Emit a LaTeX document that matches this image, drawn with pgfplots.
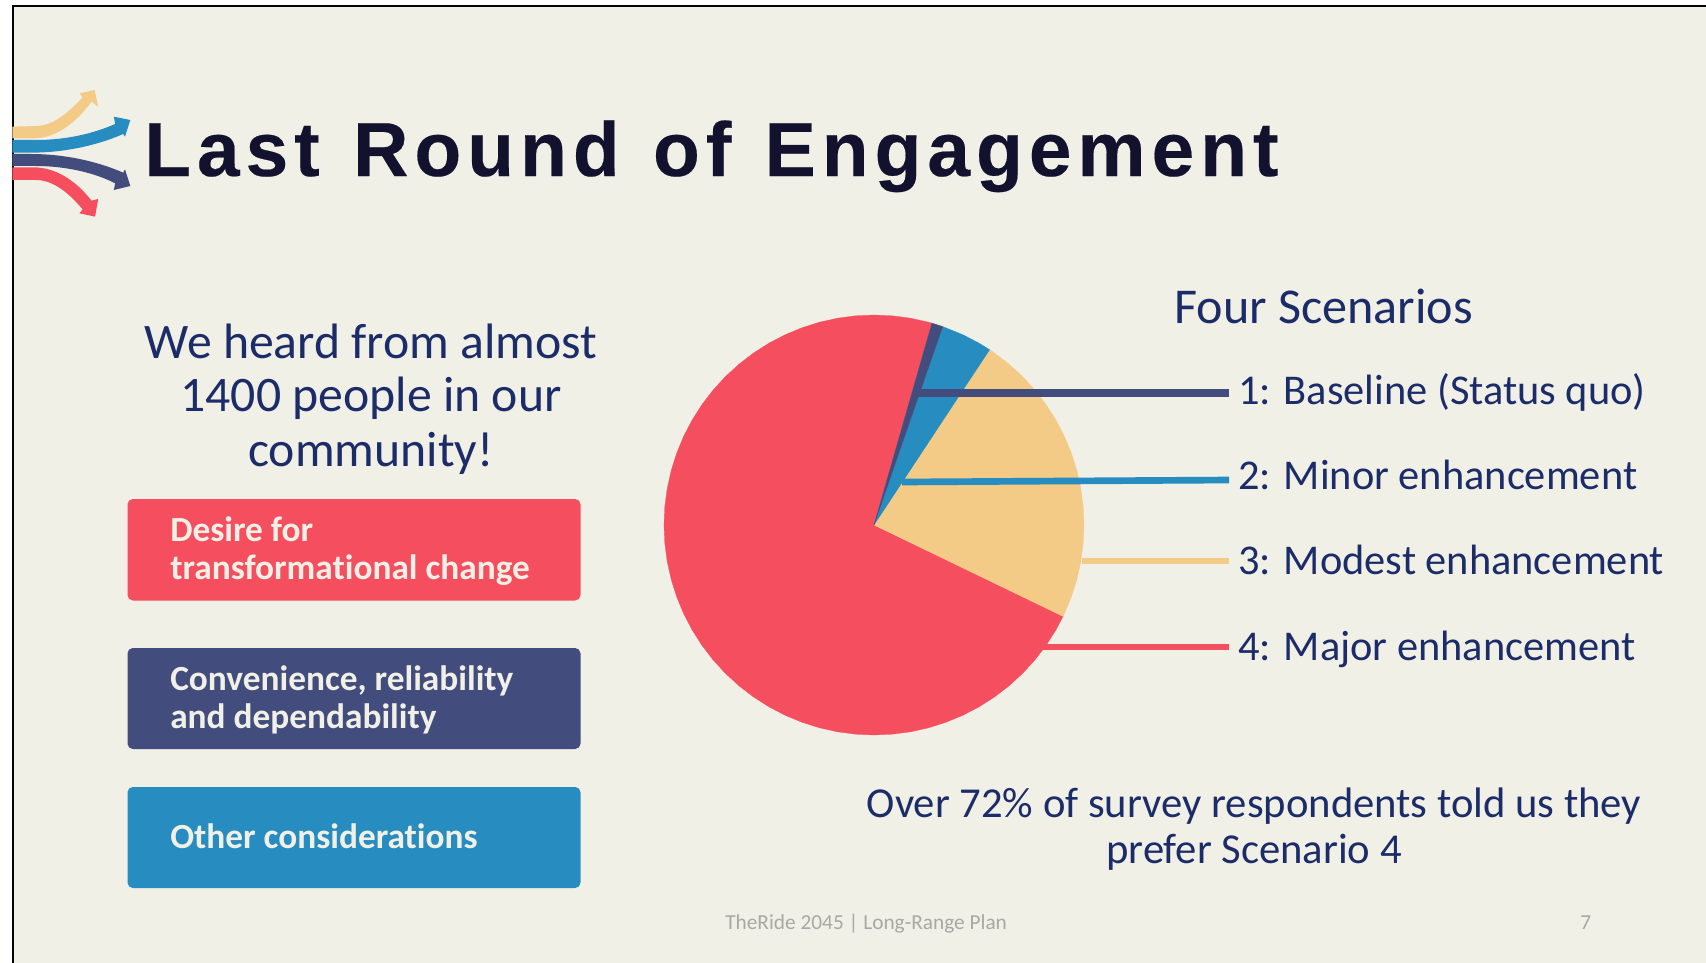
\documentclass[border=0pt]{standalone}
\usepackage{pgfplots}
\pgfplotsset{compat=1.18}
\usepgfplotslibrary{polar}
\usepackage{fontspec}
\setmainfont{Carlito}[RawFeature={-liga}]
\newfontfamily\titlefont[LetterSpace=7.8,WordSpace=1.22,FakeBold=0.25]{Liberation Sans}
\definecolor{bg}{HTML}{F0F0E7}
\definecolor{cred}{HTML}{F54F5F}
\definecolor{cnavy}{HTML}{434D7D}
\definecolor{cblue}{HTML}{278CBF}
\definecolor{ctan}{HTML}{F4CA87}
\definecolor{ctitle}{HTML}{12122E}
\definecolor{ctext}{HTML}{1C2C68}
\definecolor{cboxtext}{HTML}{F0F0E7}
\definecolor{cfoot}{HTML}{A8A8A4}
\begin{document}
\begin{tikzpicture}[x=0.75pt,y=-0.75pt]
\useasboundingbox (0,0) rectangle (1706,963);
\fill[white] (0,0) rectangle (1706,963);
\fill[bg] (12.5,6.5) rectangle (1706,963);
\draw[black,line width=1.5pt] (12.5,963) -- (12.5,6.5) -- (1706,6.5);
% logo
\begin{scope}[x=0.3348pt,y=-0.25pt]
\fill[ctan] (28,380)--(80,378) .. controls (120,378) and (155,335) .. (185,292) -- (178,280) -- (212,270) -- (220,320) -- (205,305) .. controls (175,360) and (130,415) .. (75,415) -- (28,415) -- cycle;
\fill[cred] (28,502)--(75,502) .. controls (130,502) and (175,550) .. (205,602) -- (220,597) -- (213,650) -- (178,640) -- (185,628) .. controls (155,580) and (120,540) .. (80,540) -- (28,540) -- cycle;
\fill[cnavy] (28,462)--(70,462) .. controls (140,462) and (215,482) .. (276,518) -- (280,508) -- (292,558) -- (255,570) -- (258,550) .. controls (215,520) and (150,498) .. (80,498) -- (28,498) -- cycle;
\fill[cblue] (28,420)--(80,420) .. controls (150,420) and (210,400) .. (258,372) -- (255,350) -- (292,360) -- (280,410) -- (276,402) .. controls (215,438) and (140,458) .. (70,458) -- (28,458) -- cycle;
\end{scope}
% title
\node[anchor=base west,inner sep=0pt,text=ctitle] at (144,176) {\fontsize{57.5pt}{60pt}\selectfont\titlefont\bfseries Last Round of Engagement};
% left text
\foreach \yy/\tt in {358/We heard from almost,411/1400 people in our,466/community!}
  \node[anchor=base,inner sep=0pt,text=ctext] at (371,\yy) {\fontsize{37.3pt}{39pt}\selectfont \tt};
% boxes
\fill[cred,rounded corners=4pt] (127.5,499) rectangle (580.5,600.5);
\fill[cnavy,rounded corners=4pt] (127.5,648) rectangle (580.5,749);
\fill[cblue,rounded corners=4pt] (127.5,787) rectangle (580.5,888);
\foreach \yy/\tt in {541/Desire for,579/transformational change,690/{Convenience, reliability},728/and dependability,848/Other considerations}
  \node[anchor=base west,inner sep=0pt,text=cboxtext] at (170,\yy) {\fontsize{26.5pt}{28pt}\selectfont\bfseries \tt};
% pie
\begin{axis}[at={(498pt,-551.25pt)},anchor=south west,scale only axis,width=315pt,height=315pt,
  xmin=-210,xmax=210,ymin=-210,ymax=210,hide axis,clip=false]
% shares: 0.9, 4.0, 22.9, 72.2 percent, clockwise from 16 degrees past the top
\addplot[fill=cred,draw=cred,line width=0.2pt,forget plot,data cs=polar] coordinates {(0,0)(-25.8,210)(-30,210)(-35,210)(-40,210)(-45,210)(-50,210)(-55,210)(-60,210)(-65,210)(-70,210)(-75,210)(-80,210)(-85,210)(-90,210)(-95,210)(-100,210)(-105,210)(-110,210)(-115,210)(-120,210)(-125,210)(-130,210)(-135,210)(-140,210)(-145,210)(-150,210)(-155,210)(-160,210)(-165,210)(-170,210)(-175,210)(-180,210)(-185,210)(-190,210)(-195,210)(-200,210)(-205,210)(-210,210)(-215,210)(-220,210)(-225,210)(-230,210)(-235,210)(-240,210)(-245,210)(-250,210)(-255,210)(-260,210)(-265,210)(-270,210)(-275,210)(-280,210)(-285,210)(-286,210)(0,0)};
\addplot[fill=ctan,draw=ctan,line width=0.2pt,forget plot,data cs=polar] coordinates {(0,0)(56.6,210)(55,210)(50,210)(45,210)(40,210)(35,210)(30,210)(25,210)(20,210)(15,210)(10,210)(5,210)(0,210)(-5,210)(-10,210)(-15,210)(-20,210)(-25,210)(-25.8,210)(0,0)};
\addplot[fill=cblue,draw=cblue,line width=0.2pt,forget plot,data cs=polar] coordinates {(0,0)(70.9,210)(65,210)(60,210)(56.6,210)(0,0)};
\addplot[fill=cnavy,draw=cnavy,line width=0.2pt,forget plot,data cs=polar] coordinates {(0,0)(74,210)(72.5,210)(70.9,210)(0,0)};
\end{axis}
% leader lines
\begin{axis}[at={(0,0)},anchor=north west,scale only axis,width=1279.5pt,height=722.25pt,
  xmin=0,xmax=1706,ymin=0,ymax=963,y dir=reverse,hide axis,clip=false]
\addplot[ctan,line width=5pt,forget plot] coordinates {(1082,561)(1229,561)};
\addplot[cred,line width=5pt,forget plot] coordinates {(1043,647)(1229,647)};
\addplot[cblue,line width=5pt,forget plot] coordinates {(902,482)(1229,480)};
\addplot[cnavy,line width=5.8pt,forget plot] coordinates {(918,393)(1229,393)};
\end{axis}
% right text
\node[anchor=base west,inner sep=0pt,text=ctext] at (1174,323.5) {\fontsize{37.6pt}{39pt}\selectfont Four Scenarios};
\foreach \yy/\tt in {404/1: Baseline (Status quo),489/2: Minor enhancement,574/3: Modest enhancement,660/4: Major enhancement}
  \node[anchor=base west,inner sep=0pt,text=ctext] at (1238,\yy) {\fontsize{31.8pt}{33pt}\selectfont \tt};
\foreach \yy/\tt in {817/Over 72\% of survey respondents told us they,863/prefer Scenario 4}
  \node[anchor=base,inner sep=0pt,text=ctext] at (1254,\yy) {\fontsize{32pt}{34pt}\selectfont \tt};
\node[anchor=base west,inner sep=0pt,text=cfoot] at (725,929) {\fontsize{16pt}{18pt}\selectfont TheRide 2045 | Long-Range Plan};
\node[anchor=base west,inner sep=0pt,text=cfoot] at (1580,929) {\fontsize{16pt}{18pt}\selectfont 7};
\end{tikzpicture}
\end{document}
